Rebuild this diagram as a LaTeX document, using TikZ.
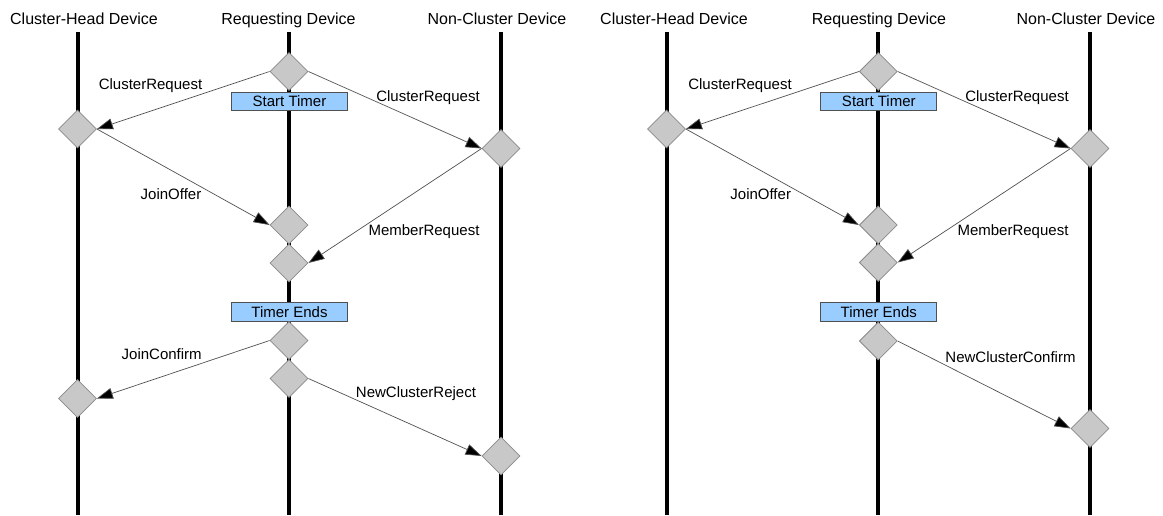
\documentclass[tikz,border=0pt]{standalone}
\usepackage{fontspec}
\setmainfont{Liberation Sans}
\usetikzlibrary{shapes.geometric,arrows.meta}
\definecolor{eventfill}{HTML}{C8C8C8}
\definecolor{eventline}{HTML}{8A8A8A}
\definecolor{timerblue}{HTML}{99CCFF}
\definecolor{boxline}{HTML}{505050}
\definecolor{msgline}{HTML}{505050}
\begin{document}
\begin{tikzpicture}[x=1pt,y=-1pt,
  lifeline/.style={line width=4pt,black},
  event/.style={diamond,draw=eventline,fill=eventfill,line width=0.8pt,
    minimum width=38pt,minimum height=38pt,inner sep=0pt,aspect=1},
  timerbox/.style={rectangle,draw=boxline,fill=timerblue,line width=0.8pt,
    minimum width=116pt,minimum height=18.5pt,inner sep=0pt,
    font=\fontsize{15}{18}\selectfont},
  msg/.style={draw=msgline,line width=0.7pt,
    -{Triangle[length=16pt,width=11pt,fill=black]}},
  msglabel/.style={anchor=base,inner sep=0pt,font=\fontsize{15}{18}\selectfont},
  devtitle/.style={anchor=base,inner sep=0pt,font=\fontsize{16}{19}\selectfont}]
\useasboundingbox (0,0) rectangle (1163,515);

% ---------------- left scenario: a cluster head answers ----------------
\node[devtitle] (tCH) at (84,24.5) {Cluster-Head Device};
\node[devtitle] (tRQ) at (288.5,24.5) {Requesting Device};
\node[devtitle] (tNC) at (497,24.5) {Non-Cluster Device};

\coordinate (chTop) at (77.5,32);  \coordinate (chBot) at (77.5,515);
\coordinate (rqTop) at (289,32);   \coordinate (rqBot) at (289,515);
\coordinate (ncTop) at (501,32);   \coordinate (ncBot) at (501,515);
\draw[lifeline] (chTop) -- (chBot);
\draw[lifeline] (rqTop) -- (rqBot);
\draw[lifeline] (ncTop) -- (ncBot);

\node[event] (r1) at (289,71.5) {};
\node[timerbox] (start) at (289.5,101.5) {Start Timer};
\node[event] (c1) at (77.5,129) {};
\node[event] (n1) at (501,148.5) {};
\node[event] (r2) at (289,225) {};
\node[event] (r3) at (289,263) {};
\node[timerbox] (ends) at (289.5,312) {Timer Ends};
\node[event] (r4) at (289,340.5) {};
\node[event] (r5) at (289,378.5) {};
\node[event] (c2) at (77.5,398.5) {};
\node[event] (n2) at (501,456) {};

\draw[msg] (r1.west) -- (c1.east);
\draw[msg] (r1.east) -- (n1.west);
\draw[msg] (c1.east) -- (r2.west);
\draw[msg] (n1.west) -- (r3.east);
\draw[msg] (r4.west) -- (c2.east);
\draw[msg] (r5.east) -- (n2.west);

\node[msglabel] (l1) at (150.5,89) {ClusterRequest};
\node[msglabel] (l2) at (428,101) {ClusterRequest};
\node[msglabel] (l3) at (171,199) {JoinOffer};
\node[msglabel] (l4) at (424,235.7) {MemberRequest};
\node[msglabel] (l5) at (161.7,359) {JoinConfirm};
\node[msglabel] (l6) at (416,397.4) {NewClusterReject};

% ---------------- right scenario: a new cluster is formed ----------------
\node[devtitle] (TCH) at (674,24.5) {Cluster-Head Device};
\node[devtitle] (TRQ) at (879,24.5) {Requesting Device};
\node[devtitle] (TNC) at (1086,24.5) {Non-Cluster Device};

\coordinate (CHtop) at (666.5,32);  \coordinate (CHbot) at (666.5,515);
\coordinate (RQtop) at (878.3,32);  \coordinate (RQbot) at (878.3,515);
\coordinate (NCtop) at (1090,32);   \coordinate (NCbot) at (1090,515);
\draw[lifeline] (CHtop) -- (CHbot);
\draw[lifeline] (RQtop) -- (RQbot);
\draw[lifeline] (NCtop) -- (NCbot);

\node[event] (R1) at (878.3,71.5) {};
\node[timerbox] (Start) at (878.8,101.5) {Start Timer};
\node[event] (C1) at (666.5,129) {};
\node[event] (N1) at (1090,148.5) {};
\node[event] (R2) at (878.3,225) {};
\node[event] (R3) at (878.3,262.5) {};
\node[timerbox] (Ends) at (878.8,312) {Timer Ends};
\node[event] (R4) at (878.3,341) {};
\node[event] (N2) at (1090,428.5) {};

\draw[msg] (R1.west) -- (C1.east);
\draw[msg] (R1.east) -- (N1.west);
\draw[msg] (C1.east) -- (R2.west);
\draw[msg] (N1.west) -- (R3.east);
\draw[msg] (R4.east) -- (N2.west);

\node[msglabel] (L1) at (740,89) {ClusterRequest};
\node[msglabel] (L2) at (1017,101.5) {ClusterRequest};
\node[msglabel] (L3) at (760.7,199) {JoinOffer};
\node[msglabel] (L4) at (1013,235.7) {MemberRequest};
\node[msglabel] (L5) at (1010.5,362.4) {NewClusterConfirm};
\end{tikzpicture}
\end{document}
